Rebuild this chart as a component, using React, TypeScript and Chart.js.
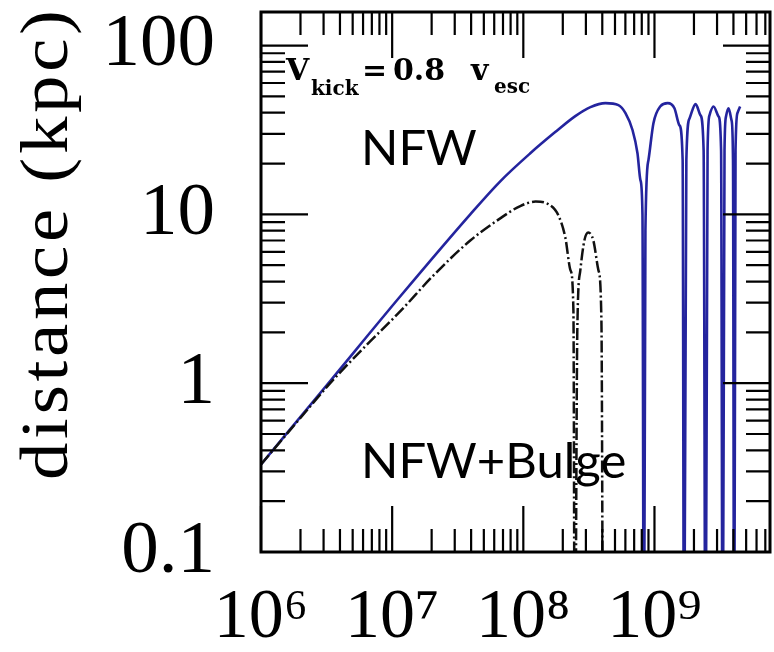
import React, { useEffect, useRef } from "react";
import { Chart, registerables } from "chart.js";

Chart.register(...registerables);

// Axis ranges
const X_MIN = 1e6;
const X_MAX = 7.6e9;
const Y_MIN = 0.1;
const Y_MAX = 158;

// Tick labels (decades)
const xTickExponents = [6, 7, 8, 9];
const xTickLabels = ["10⁶", "10⁷", "10⁸", "10⁹"];
const yTickExponents = [-1, 0, 1, 2];
const yTickLabels = ["0.1", "1", "10", "100"];
const yAxisTitle = "distance (kpc)";

// NFW (blue, solid): time (yr) and distance (kpc)
const nfwTime = [
  1.0e6, 3.37e6, 1.15e7, 3.94e7, 6.67e7, 1.13e8, 1.75e8, 2.49e8, 3.25e8, 4.23e8,
  5.31e8, 6.01e8, 6.8e8, 7.42e8, 7.82e8, 8.1e8, 8.3e8,
  8.53e8, 9.0e8, 9.82e8, 1.11e9, 1.26e9, 1.42e9, 1.55e9, 1.64e9, 1.68e9,
  1.75e9, 1.85e9, 2.06e9, 2.24e9, 2.37e9, 2.45e9,
  2.54e9, 2.63e9, 2.82e9, 3.08e9, 3.22e9, 3.31e9,
  3.42e9, 3.51e9, 3.67e9, 3.87e9, 3.97e9, 4.05e9,
  4.15e9, 4.3e9, 4.5e9,
];
const nfwDist = [
  0.33, 1.03, 3.26, 10.0, 15.7, 23.0, 30.7, 38.2, 43.2, 45.6,
  44.4, 39.8, 31.6, 23.0, 15.9, 10.0, 0.01,
  8.0, 21.0, 34.7, 43.7, 45.6, 42.5, 33.7, 21.0, 0.01,
  21.0, 37.0, 45.0, 38.7, 24.0, 0.01,
  24.0, 38.7, 43.5, 38.0, 24.0, 0.01,
  24.0, 38.0, 42.5, 36.0, 21.0, 0.01,
  24.0, 40.0, 43.5,
];

// NFW+Bulge (black, dash-dot)
const bulgeTime = [
  1.0e6, 1.99e6, 3.37e6, 6.22e6, 1.15e7, 2.06e7, 3.94e7, 6.67e7, 9.48e7, 1.24e8,
  1.55e8, 1.85e8, 2.09e8, 2.29e8, 2.41e8, 2.47e8,
  2.58e8, 2.72e8, 2.92e8, 3.13e8, 3.42e8, 3.74e8, 3.94e8, 4.05e8,
];
const bulgeDist = [
  0.33, 0.62, 1.0, 1.65, 2.66, 4.34, 7.0, 9.47, 11.2, 11.9,
  11.5, 9.87, 7.3, 4.66, 2.69, 0.01,
  2.05, 4.66, 7.0, 7.8, 7.0, 4.66, 2.35, 0.01,
];

const annotationLabels = { nfw: "NFW", bulge: "NFW+Bulge" };

function toPoints(xs: number[], ys: number[]) {
  return xs.map((x, i) => ({ x, y: ys[i] }));
}

function isDecade(v: number) {
  const l = Math.log10(v);
  const r = Math.round(l);
  return Math.abs(l - r) < 1e-6 ? r : null;
}

const framePlugin = {
  id: "framePlugin",
  afterDraw(chart: any) {
    const ctx = chart.ctx;
    const { left, right, top, bottom } = chart.chartArea;
    const xs = chart.scales.x;
    const ys = chart.scales.y;
    ctx.save();
    ctx.strokeStyle = "#000";
    ctx.lineWidth = 2.2;
    ctx.beginPath();
    for (let e = 6; e <= 9; e++) {
      for (let m = 1; m <= 9; m++) {
        const v = m * Math.pow(10, e);
        if (v < X_MIN || v > X_MAX) continue;
        const px = xs.getPixelForValue(v);
        const len = m === 1 ? 46 : 23;
        ctx.moveTo(px, bottom);
        ctx.lineTo(px, bottom - len);
        ctx.moveTo(px, top);
        ctx.lineTo(px, top + len);
      }
    }
    for (let e = -1; e <= 2; e++) {
      for (let m = 1; m <= 9; m++) {
        const v = m * Math.pow(10, e);
        if (v < Y_MIN || v > Y_MAX) continue;
        const py = ys.getPixelForValue(v);
        const len = m === 1 ? 47 : 24;
        ctx.moveTo(left, py);
        ctx.lineTo(left + len, py);
        ctx.moveTo(right, py);
        ctx.lineTo(right - len, py);
      }
    }
    ctx.stroke();
    ctx.lineWidth = 3;
    ctx.strokeRect(left, top, right - left, bottom - top);

    // Annotations
    ctx.fillStyle = "#000";
    ctx.textBaseline = "alphabetic";
    ctx.textAlign = "left";
    ctx.font = 'bold 30px "DejaVu Serif"';
    ctx.fillText("V", 286, 80);
    ctx.fillText("=", 362, 80);
    ctx.fillText("0.8", 393, 80);
    ctx.fillText("v", 471, 80);
    ctx.font = 'bold 20px "DejaVu Serif"';
    ctx.fillText("kick", 311, 95);
    ctx.fillText("esc", 494, 93);

    ctx.font = '49px "Lato"';
    ctx.fillText(annotationLabels.nfw, 361, 165);
    ctx.fillText(annotationLabels.bulge, 361, 478);

    // Y axis title (rotated; widened along its length to span the reference extent)
    ctx.font = '68px "Liberation Serif"';
    const sx = 1.1;
    const target = 470;
    const n = yAxisTitle.length;
    const w0 = ctx.measureText(yAxisTitle).width;
    const spacing = Math.max(0, (target / sx - w0) / (n - 1));
    ctx.translate(67, 480);
    ctx.rotate(-Math.PI / 2);
    ctx.scale(sx, 1);
    let cx = 0;
    for (const ch of yAxisTitle) {
      ctx.fillText(ch, cx, 0);
      cx += ctx.measureText(ch).width + spacing;
    }
    ctx.restore();
  },
};

function zeroPad(s: any) {
  s.paddingTop = 0;
  s.paddingBottom = 0;
  s.paddingLeft = 0;
  s.paddingRight = 0;
}

export default function App() {
  const ref = useRef<HTMLCanvasElement>(null);
  useEffect(() => {
    if (!ref.current) return;
    const chart = new Chart(ref.current, {
      type: "line",
      data: {
        datasets: [
          {
            label: "NFW+Bulge",
            data: toPoints(bulgeTime, bulgeDist),
            borderColor: "#111111",
            borderWidth: 2.5,
            borderDash: [12, 3, 2, 3],
            pointRadius: 0,
            fill: false,
            cubicInterpolationMode: "monotone",
          },
          {
            label: "NFW",
            data: toPoints(nfwTime, nfwDist),
            borderColor: "#24249e",
            borderWidth: 2.6,
            pointRadius: 0,
            fill: false,
            cubicInterpolationMode: "monotone",
          },
        ],
      },
      options: {
        responsive: false,
        animation: false,
        devicePixelRatio: 1,
        layout: { padding: { left: 0, right: 4, top: 12, bottom: 0 } },
        plugins: {
          legend: { display: false },
          tooltip: { enabled: false },
        },
        scales: {
          x: {
            type: "logarithmic",
            min: X_MIN,
            max: X_MAX,
            grid: { display: false, drawTicks: false },
            border: { display: false },
            ticks: {
              autoSkip: false,
              maxRotation: 0,
              padding: 25,
              color: "#000",
              font: { family: '"Liberation Serif"', size: 70 },
              callback: (v: any) => {
                const r = isDecade(Number(v));
                if (r === null) return "";
                const i = xTickExponents.indexOf(r);
                return i >= 0 ? xTickLabels[i] : "";
              },
            },
            afterFit: (s: any) => {
              s.height = 100;
              zeroPad(s);
            },
          },
          y: {
            type: "logarithmic",
            min: Y_MIN,
            max: Y_MAX,
            grid: { display: false, drawTicks: false },
            border: { display: false },
            ticks: {
              autoSkip: false,
              padding: 46,
              color: "#000",
              font: { family: '"Liberation Serif"', size: 75 },
              callback: (v: any) => {
                const r = isDecade(Number(v));
                if (r === null) return "";
                const i = yTickExponents.indexOf(r);
                return i >= 0 ? yTickLabels[i] : "";
              },
            },
            afterFit: (s: any) => {
              s.width = 261;
              zeroPad(s);
            },
          },
        },
      },
      plugins: [framePlugin],
    });
    return () => chart.destroy();
  }, []);
  return (
    <div style={{ position: "fixed", left: 0, top: 0, width: 774, height: 652, background: "#fff" }}>
      <canvas ref={ref} width={774} height={652} />
    </div>
  );
}
